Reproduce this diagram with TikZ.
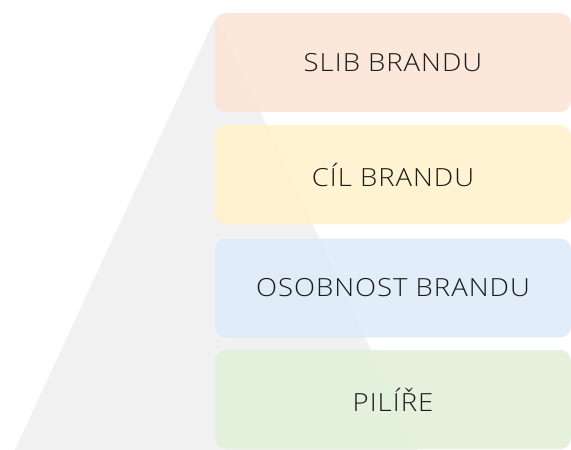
\documentclass[tikz,border=0pt]{standalone}
\usepackage{fontspec}
\setmainfont{Open Sans Light}[FakeStretch=1.1,LetterSpace=4]
\usetikzlibrary{positioning}

\definecolor{pyrgrey}{HTML}{F1F1F1}
\definecolor{slibfill}{HTML}{FBE5D6}
\definecolor{cilfill}{HTML}{FFF2CC}
\definecolor{osobfill}{HTML}{DEEBF7}
\definecolor{pilfill}{HTML}{E2F0D9}
\definecolor{labeltext}{HTML}{1A1A1A}

\begin{document}
\begin{tikzpicture}[x=1pt,y=-1pt,
  level/.style={rounded corners=11pt,minimum width=356pt,minimum height=99pt,
    inner sep=0pt,fill opacity=.9,text opacity=1,text=labeltext,
    font=\fontsize{25}{30}\selectfont}]

\useasboundingbox (0,0) rectangle (571,450);
\clip (0,0) rectangle (571,450);

% grey pyramid behind the levels
\fill[pyrgrey,rounded corners=3pt] (216,16) -- (420,456) -- (12,456) -- cycle;

\node[level,fill=slibfill] (slib) at (393,62.5) {SLIB BRANDU};
\node[level,fill=cilfill] (cil) at (393,174.5) {CÍL BRANDU};
\node[level,fill=osobfill] (osobnost) at (393,288) {OSOBNOST BRANDU};
\node[level,fill=pilfill] (pilire) at (393,399.5) {PILÍŘE};

\end{tikzpicture}
\end{document}
